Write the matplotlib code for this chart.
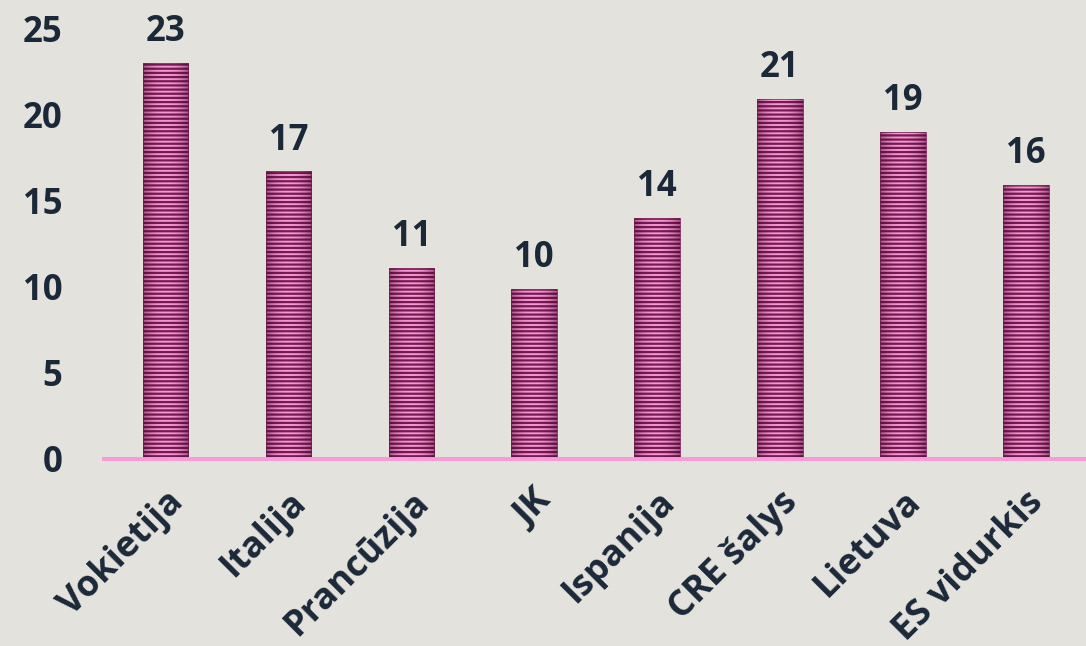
import matplotlib
matplotlib.use("Agg")
import matplotlib.pyplot as plt
import numpy as np

categories = ["Vokietija", "Italija", "Prancūzija", "JK", "Ispanija", "CRE šalys", "Lietuva", "ES vidurkis"]
values = [23.0, 16.7, 11.1, 9.9, 14.0, 20.9, 19.0, 15.9]
labels = ["23", "17", "11", "10", "14", "21", "19", "16"]
yticks = [0, 5, 10, 15, 20, 25]

bg = "#e3e2dd"
txt = "#1b2838"
plt.rcParams["font.family"] = ["Open Sans", "DejaVu Sans"]
plt.rcParams["hatch.linewidth"] = 1.6
plt.rcParams["hatch.color"] = "#580535"

fig = plt.figure(figsize=(10.86, 6.46), dpi=100, facecolor=bg)
ax = fig.add_axes([104/1086, 187/646, 982/1086, (646-187-28.5)/646])
ax.set_facecolor(bg)

x = list(range(len(categories)))
bars = ax.bar(x, values, width=0.37, color="#f49ad2", edgecolor="#7a1a55",
              linewidth=0.5, hatch="----", zorder=2)

# horizontal shading (darker edges) clipped to each bar
prof = np.linspace(-1, 1, 64)
alpha = 0.45 * np.abs(prof) ** 2.2
shade = np.zeros((1, 64, 4))
shade[..., 0] = 0.25
shade[..., 1] = 0.0
shade[..., 2] = 0.15
shade[..., 3] = alpha
for b in bars:
    x0, w, h = b.get_x(), b.get_width(), b.get_height()
    im = ax.imshow(shade, extent=(x0, x0 + w, 0, h), aspect="auto",
                   interpolation="bilinear", zorder=2.5)
    im.set_clip_path(b)

for xi, v, lab in zip(x, values, labels):
    ax.text(xi, v + 0.75, lab, ha="center", va="bottom", fontsize=25,
            fontweight="bold", color=txt, clip_on=False)

ax.set_xlim(-0.5, 7.49)
ax.set_ylim(0, 25)
ax.set_yticks(yticks)
ax.set_yticklabels([str(t) for t in yticks], fontsize=25, fontweight="bold", color=txt)
ax.set_xticks(x)
ax.set_xticklabels(categories, rotation=45, ha="right", rotation_mode="anchor",
                   fontsize=26, fontweight="bold", color=txt)
ax.tick_params(axis="both", length=0)
ax.tick_params(axis="y", pad=30)
ax.tick_params(axis="x", pad=18)
for s in ["left", "top", "right"]:
    ax.spines[s].set_visible(False)
ax.spines["bottom"].set_color("#f79ad6")
ax.spines["bottom"].set_linewidth(2.8)
ax.spines["bottom"].set_zorder(3)

fig.savefig("out.png", dpi=100, facecolor=bg)
